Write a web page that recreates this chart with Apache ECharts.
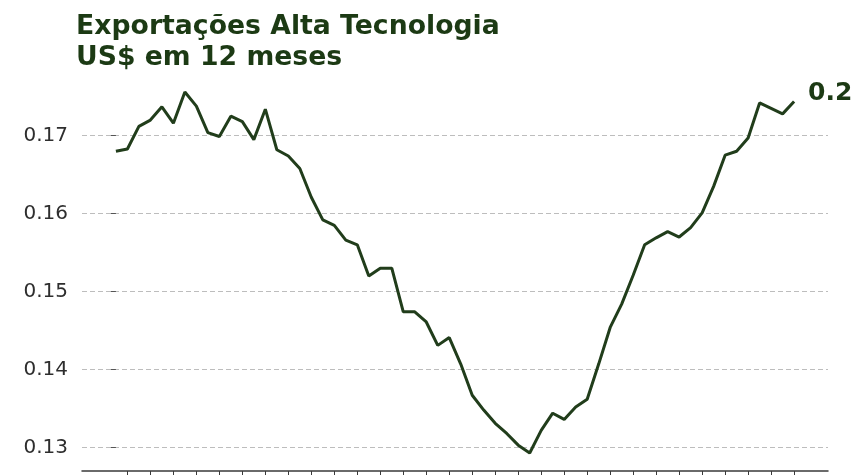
<!DOCTYPE html>
<html>
<head>
<meta charset="utf-8">
<script src="https://cdn.jsdelivr.net/npm/echarts@6/dist/echarts.min.js"></script>
<style>
html,body{margin:0;padding:0;background:#fff;}
#chart{width:859px;height:475px;}
</style>
</head>
<body>
<div id="chart"></div>
<script>
// Title text
const titleText = 'Exportações Alta Tecnologia\nUS$ em 12 meses';

// Series values (60 months, US$ in 12 months)
const values = [
  0.1680, 0.1683, 0.1712, 0.1720, 0.1737, 0.1716, 0.1756, 0.1738, 0.1704, 0.1699,
  0.1725, 0.1718, 0.1695, 0.1734, 0.1682, 0.1674, 0.1658, 0.1621, 0.1592, 0.1585,
  0.1566, 0.1560, 0.1520, 0.1530, 0.1530, 0.1474, 0.1474, 0.1461, 0.1431, 0.1441,
  0.1407, 0.1367, 0.1348, 0.1331, 0.1318, 0.1303, 0.1293, 0.1322, 0.1344, 0.1336,
  0.1352, 0.1362, 0.1407, 0.1454, 0.1484, 0.1521, 0.1560, 0.1569, 0.1577, 0.1570,
  0.1582, 0.1601, 0.1635, 0.1675, 0.1680, 0.1697, 0.1742, 0.1735, 0.1728, 0.1744
];

// Month index positions (categories)
const months = values.map((_, i) => i);

// Y tick labels
const yTicks = [0.13, 0.14, 0.15, 0.16, 0.17];

// X tick positions (every other month)
const xTicks = months.filter(i => i % 2 === 1);

const dataPairs = months.map((m, i) => [m, values[i]]);

const vMin = Math.min(...values), vMax = Math.max(...values);
const vPad = (vMax - vMin) * 0.05;
const xPad = (months.length - 1) * 0.05;

const green = '#1c3a14';

const chart = echarts.init(document.getElementById('chart'), null, {renderer: 'canvas'});
chart.setOption({
  animation: false,
  backgroundColor: '#ffffff',
  title: {
    text: titleText,
    left: 76,
    top: 12,
    padding: 0,
    textStyle: {
      fontFamily: 'DejaVu Sans',
      fontSize: 26.7,
      fontWeight: 'bold',
      color: green,
      lineHeight: 31
    }
  },
  grid: {left: 82, right: 31, top: 74, bottom: 4, containLabel: false},
  xAxis: {
    type: 'value',
    min: -xPad,
    max: months.length - 1 + xPad,
    axisLine: {show: true, lineStyle: {color: '#3a3a3a', width: 1.5}},
    axisTick: {show: true, customValues: xTicks, length: 5, lineStyle: {color: '#3a3a3a', width: 1}},
    axisLabel: {show: false},
    splitLine: {show: false}
  },
  yAxis: {
    type: 'value',
    min: vMin - vPad,
    max: vMax + vPad,
    axisLine: {show: false},
    axisTick: {show: true, customValues: yTicks, length: 5, lineStyle: {color: '#555', width: 1}},
    axisLabel: {
      show: true,
      customValues: yTicks,
      margin: 14,
      fontFamily: 'DejaVu Sans',
      fontSize: 20,
      color: '#2e2e2e',
      formatter: v => v.toFixed(2)
    },
    splitLine: {show: true, lineStyle: {color: '#bdbdbd', width: 1, type: [5, 3]}}
  },
  series: [{
    type: 'line',
    data: dataPairs,
    showSymbol: false,
    lineStyle: {color: '#213d1b', width: 3},
    endLabel: {
      show: true,
      formatter: p => p.value[1].toFixed(1),
      distance: 14,
      offset: [0, -8],
      fontFamily: 'DejaVu Sans',
      fontSize: 25,
      fontWeight: 'bold',
      color: green
    }
  }]
});
</script>
</body>
</html>
